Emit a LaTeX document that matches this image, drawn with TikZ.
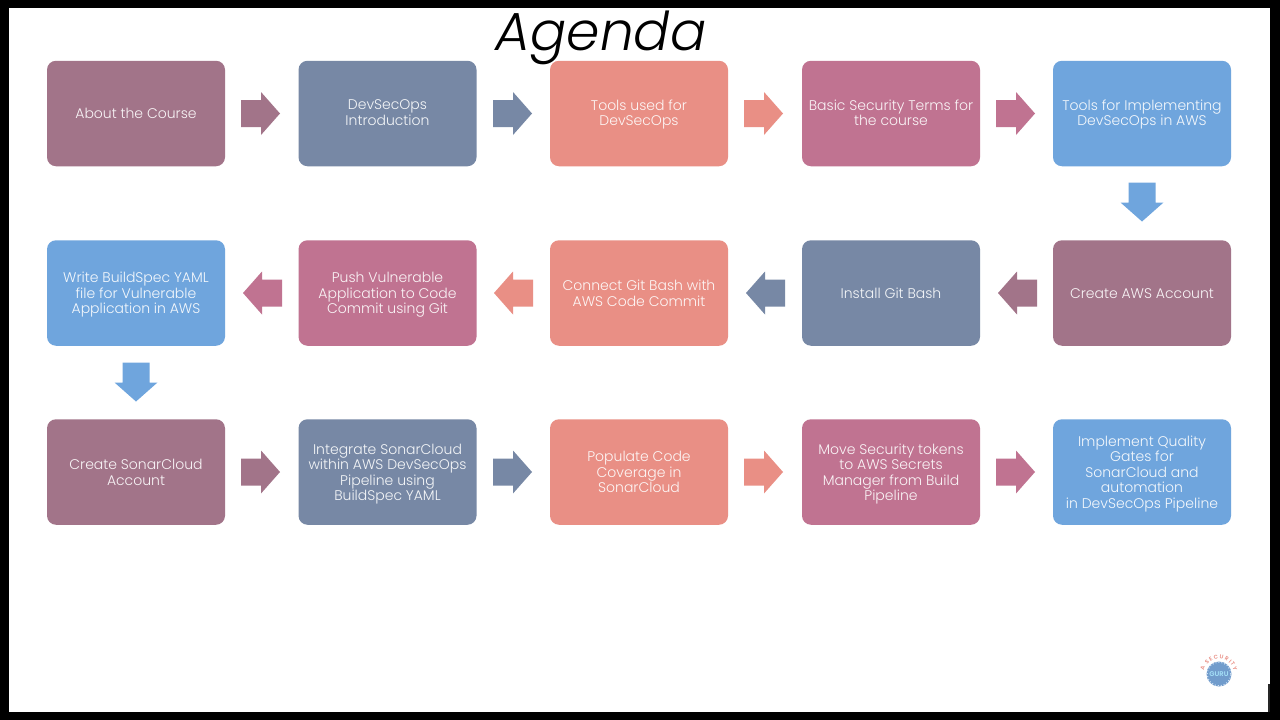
\documentclass[tikz,border=0pt]{standalone}
\usepackage{fontspec}
\setmainfont{Poppins}[UprightFont=* Light,BoldFont=* SemiBold]
\newfontfamily\titlefont{Poppins}[ItalicFont=* Light Italic]
\usetikzlibrary{decorations.text}
\definecolor{cmauve}{HTML}{A27489}
\definecolor{cslate}{HTML}{7788A5}
\definecolor{csalmon}{HTML}{E98F85}
\definecolor{cpink}{HTML}{C07391}
\definecolor{cblue}{HTML}{6FA5DD}
\tikzset{
  card/.style={fill=#1,draw=none,rounded corners=9pt,minimum width=178pt,minimum height=105.5pt,inner sep=0pt},
  cardtext/.style={inner sep=0pt,text=white!92!#1,align=center,font=\fontsize{14}{15.5}\selectfont,
    execute at begin node=\strut,execute at end node=\strut},
  pics/blockarrow/.style={code={
    \fill (-19.5,-13.5) -- (0.5,-13.5) -- (0.5,-21.5) -- (19.5,0) -- (0.5,21.5) -- (0.5,13.5) -- (-19.5,13.5) -- cycle;}},
}
\newcommand{\textdrop}{-1.5pt}
% name, colour, x, y, text
\newcommand{\cardbox}[5]{%
  \node[card=#2] (#1) at (#3,#4) {};
  \node[cardtext=#2] (#1t) at ([yshift=\textdrop]#1.center) {#5};}
\begin{document}
\begin{tikzpicture}[x=1pt,y=-1pt]
\useasboundingbox (0,0) rectangle (1280,720);
\fill[black] (0,0) rectangle (1280,720);
\fill[white] (9,8) rectangle (1270,712);
\fill[black!85] (1268,684) rectangle (1270,712);
\node[anchor=base,font=\fontsize{53.5}{60}\selectfont\titlefont\itshape,text=black,inner sep=0pt] (title) at (601,50) {Agenda};
% row 1
\cardbox{a1}{cmauve}{136}{113.5}{About the Course}
\cardbox{a2}{cslate}{387.5}{113.5}{DevSecOps\\Introduction}
\cardbox{a3}{csalmon}{639}{113.5}{Tools used for\\DevSecOps}
\cardbox{a4}{cpink}{891}{113.5}{Basic Security Terms for\\the course}
\cardbox{a5}{cblue}{1142}{113.5}{Tools for Implementing\\DevSecOps in AWS}
\renewcommand{\textdrop}{-2.5pt}
% row 2
\cardbox{b5}{cmauve}{1142}{293}{Create AWS Account}
\cardbox{b4}{cslate}{891}{293}{Install Git Bash}
\cardbox{b3}{csalmon}{639}{293}{Connect Git Bash with\\AWS Code Commit}
\cardbox{b2}{cpink}{387.5}{293}{Push Vulnerable\\Application to Code\\Commit using Git}
\cardbox{b1}{cblue}{136}{293}{Write BuildSpec YAML\\file for Vulnerable\\Application in AWS}
% row 3
\cardbox{c1}{cmauve}{136}{472}{Create SonarCloud\\Account}
\cardbox{c2}{cslate}{387.5}{472}{Integrate SonarCloud\\within AWS DevSecOps\\Pipeline using\\BuildSpec YAML}
\cardbox{c3}{csalmon}{639}{472}{Populate Code\\Coverage in\\SonarCloud}
\cardbox{c4}{cpink}{891}{472}{Move Security tokens\\to AWS Secrets\\Manager from Build\\Pipeline}
\cardbox{c5}{cblue}{1142}{472}{Implement Quality\\Gates for\\SonarCloud and\\automation\\in DevSecOps Pipeline}
% arrows
\pic[fill=cmauve] at (260.5,113.5) {blockarrow};
\pic[fill=cslate] at (512.5,113.5) {blockarrow};
\pic[fill=csalmon] at (763.5,113.5) {blockarrow};
\pic[fill=cpink] at (1015.5,113.5) {blockarrow};
\pic[fill=cblue,rotate=-90] at (1142,202) {blockarrow};
\pic[fill=cmauve,rotate=180] at (1017.5,293) {blockarrow};
\pic[fill=cslate,rotate=180] at (765.5,293) {blockarrow};
\pic[fill=csalmon,rotate=180] at (513.5,293) {blockarrow};
\pic[fill=cpink,rotate=180] at (262.5,293) {blockarrow};
\pic[fill=cblue,rotate=-90] at (136,382) {blockarrow};
\pic[fill=cmauve] at (260.5,472) {blockarrow};
\pic[fill=cslate] at (512.5,472) {blockarrow};
\pic[fill=csalmon] at (763.5,472) {blockarrow};
\pic[fill=cpink] at (1015.5,472) {blockarrow};
% logo
\fill[cblue!70!cslate] (1219,674) circle (12.5pt);
\draw[white!70!cblue,line width=1pt,dotted] (1219,674) circle (11.8pt);
\node[inner sep=0pt,font=\fontsize{6.8}{7}\selectfont\bfseries,text=cyan!35!white] (logo) at (1219,674) {GURU};
\path[decorate,decoration={text along path,text align=fit to path,text={|\fontsize{5.5}{5.5}\selectfont\bfseries\color{csalmon}|A SECURITY}}] (1204,671) arc (170:10:15pt);
\end{tikzpicture}
\end{document}
